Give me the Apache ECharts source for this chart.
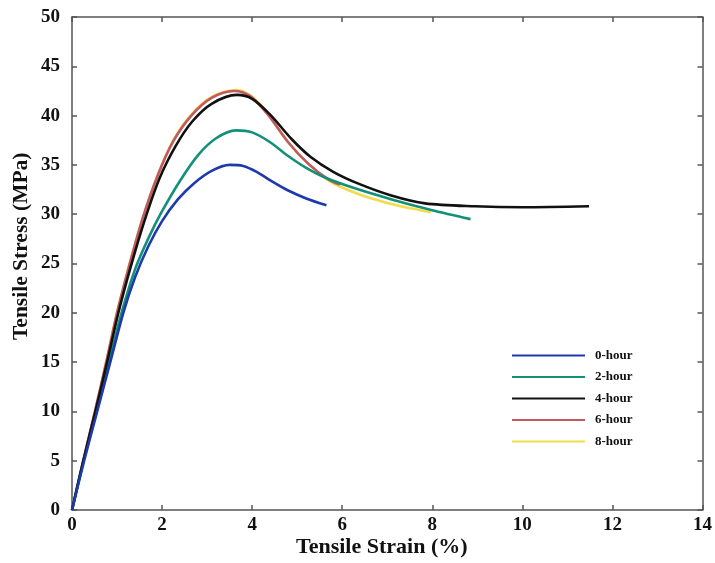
<!DOCTYPE html>
<html>
<head>
<meta charset="utf-8">
<script src="https://cdn.jsdelivr.net/npm/echarts@6/dist/echarts.min.js"></script>
<style>
html,body{margin:0;padding:0;background:#fff;}
#chart{width:715px;height:563px;}
</style>
</head>
<body>
<div id="chart"></div>
<script>
var seriesNames = ['0-hour', '2-hour', '4-hour', '6-hour', '8-hour'];
var xTicks = [0, 2, 4, 6, 8, 10, 12, 14];
var yTicks = [0, 5, 10, 15, 20, 25, 30, 35, 40, 45, 50];
var xTitle = 'Tensile Strain (%)';
var yTitle = 'Tensile Stress (MPa)';

var hour0 = [[0,0],[0.27,5],[0.56,10],[0.85,15],[1.14,20],[1.4,23.6],[1.7,26.8],[2.0,29.3],[2.35,31.5],[2.7,33.1],[3.1,34.4],[3.5,35.0],[3.8,34.9],[4.1,34.3],[4.45,33.3],[4.8,32.4],[5.2,31.6],[5.65,30.9]];
var hour2 = [[0,0],[0.26,5],[0.54,10],[0.82,15],[1.1,20],[1.4,24.4],[1.7,27.6],[2.0,30.3],[2.4,33.4],[2.8,36.0],[3.2,37.7],[3.64,38.5],[4.0,38.3],[4.4,37.3],[4.8,35.9],[5.2,34.7],[5.63,33.7],[6.3,32.6],[7.1,31.5],[8.0,30.4],[8.85,29.5]];
var hour4 = [[0,0],[0.25,5],[0.52,10],[0.78,15],[1.03,20],[1.3,24.6],[1.6,29.2],[1.94,33.6],[2.3,36.9],[2.67,39.4],[3.1,41.2],[3.66,42.1],[4.0,41.7],[4.4,40.1],[4.88,37.6],[5.3,35.8],[5.8,34.3],[6.36,33.1],[7.09,31.9],[7.84,31.1],[8.94,30.8],[10.0,30.7],[11.48,30.8]];
var hour6 = [[0,0],[0.25,5],[0.51,10],[0.76,15],[1.0,20],[1.27,24.8],[1.57,29.6],[1.9,33.9],[2.25,37.4],[2.65,40.0],[3.1,41.8],[3.6,42.5],[3.95,42.0],[4.35,40.1],[4.8,37.3],[5.25,35.1],[5.7,33.5],[5.95,33.0]];
var hour8 = [[0,0],[0.25,5],[0.51,10],[0.76,15],[1.0,20],[1.27,24.8],[1.57,29.6],[1.9,33.9],[2.25,37.5],[2.65,40.1],[3.1,41.9],[3.65,42.6],[4.0,41.9],[4.38,40.0],[4.8,37.3],[5.25,35.1],[5.7,33.4],[6.1,32.5],[6.58,31.7],[7.3,30.8],[7.97,30.2]];

var colors = {'0-hour':'#1c3aa9','2-hour':'#12907a','4-hour':'#111111','6-hour':'#c05a62','8-hour':'#f2dc4a'};
var dataMap = {'0-hour':hour0,'2-hour':hour2,'4-hour':hour4,'6-hour':hour6,'8-hour':hour8};
var drawOrder = ['8-hour','6-hour','2-hour','4-hour','0-hour'];

var font = 'Liberation Serif';
var axisColor = '#555';

function mkSeries(name){
  return {
    name: name, type: 'line', data: dataMap[name], smooth: 0.3,
    showSymbol: false, symbol: 'none', xAxisIndex: 0, yAxisIndex: 0,
    lineStyle: {width: 2.6, color: colors[name]}, itemStyle: {color: colors[name]}
  };
}
function axisBase(extra){
  var o = {
    axisLine: {show: true, onZero: false, lineStyle: {color: axisColor, width: 1.5}},
    axisTick: {show: true, inside: true, length: 5, lineStyle: {color: axisColor, width: 1.5}},
    splitLine: {show: false}
  };
  for (var k in extra) o[k] = extra[k];
  return o;
}

var chart = echarts.init(document.getElementById('chart'), null, {renderer: 'canvas'});
chart.setOption({
  backgroundColor: '#fff',
  animation: false,
  grid: {left: 72, right: 9, top: 17, bottom: 53, show: false},
  legend: {
    data: seriesNames, orient: 'vertical', left: 512, top: 349,
    itemWidth: 73, itemHeight: 10, itemGap: 8.5, padding: 0,
    icon: 'path://M0,4 L73,4 L73,6 L0,6 Z',
    textStyle: {fontFamily: font, fontWeight: 'bold', fontSize: 13, color: '#111', padding: [0,0,0,5]}
  },
  graphic: [
    {type: 'text', left: 381 - 85, top: 536, style: {text: xTitle, font: 'bold 22px "Liberation Serif"', fill: '#111', textAlign: 'left'}},
    {type: 'text', x: 10, y: 340, rotation: Math.PI/2, style: {text: yTitle, font: 'bold 21.5px "Liberation Serif"', fill: '#111'}}
  ],
  xAxis: [axisBase({
    type: 'value', min: 0, max: 14, interval: 2, position: 'bottom',
    axisLabel: {fontFamily: font, fontWeight: 'bold', fontSize: 19, color: '#111', margin: 6,
      formatter: function(v){ return xTicks.indexOf(v) >= 0 ? String(v) : ''; }}
  }), axisBase({
    type: 'value', min: 0, max: 14, interval: 2, position: 'top',
    axisLabel: {show: false}
  })],
  yAxis: [axisBase({
    type: 'value', min: 0, max: 50, interval: 5, position: 'left',
    axisLabel: {fontFamily: font, fontWeight: 'bold', fontSize: 19, color: '#111', margin: 12,
      formatter: function(v){ return yTicks.indexOf(v) >= 0 ? String(v) : ''; }}
  }), axisBase({
    type: 'value', min: 0, max: 50, interval: 5, position: 'right',
    axisLabel: {show: false}
  })],
  series: drawOrder.map(mkSeries)
});
</script>
</body>
</html>
